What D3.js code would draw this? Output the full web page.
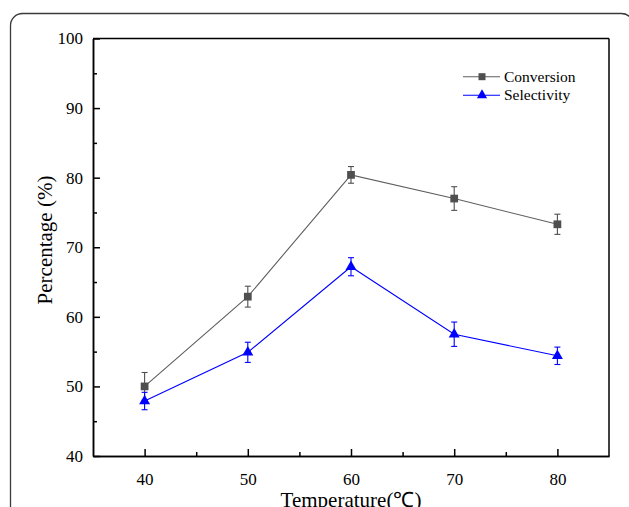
<!DOCTYPE html>
<html><head><meta charset="utf-8">
<script src="https://cdn.jsdelivr.net/npm/d3@7"></script>
<style>
html,body{margin:0;padding:0;background:#fff;}
svg{display:block;}
text{font-family:"Liberation Serif","Times New Roman",serif;fill:#000;}
</style></head>
<body><svg id="c" width="629" height="507"></svg>
<script>
const temperatures = [40, 50, 60, 70, 80];
const conversion = [50.0, 62.9, 80.4, 77.0, 73.3];
const conversionErr = [2.0, 1.5, 1.2, 1.7, 1.45];
const selectivity = [47.9, 54.9, 67.2, 57.5, 54.4];
const selectivityErr = [1.25, 1.45, 1.3, 1.75, 1.25];
const xTicks = [40, 50, 60, 70, 80];
const xMinor = [45, 55, 65, 75];
const yTicks = [40, 50, 60, 70, 80, 90, 100];
const yMinor = [45, 55, 65, 75, 85, 95];
const seriesNames = ["Conversion", "Selectivity"];

const svg = d3.select("#c");
// outer rounded frame
svg.append("rect").attr("x",10.5).attr("y",13.5).attr("width",623).attr("height",520)
  .attr("rx",12).attr("fill","none").attr("stroke","#3a3a3a").attr("stroke-width",1.3);

const L=93, R=609, T=38.5, B=456;
const x = d3.scaleLinear().domain([35,85]).range([L,R]);
const y = d3.scaleLinear().domain([40,100]).range([B,T]);

// frame of plot
svg.append("line").attr("x1",L).attr("x2",R).attr("y1",T).attr("y2",T).attr("stroke","#000").attr("stroke-width",1.5);
svg.append("line").attr("x1",R).attr("x2",R).attr("y1",T).attr("y2",B).attr("stroke","#000").attr("stroke-width",1.5);

// axes
const xAxis = svg.append("g").attr("transform",`translate(0,${B})`)
  .call(d3.axisBottom(x).tickValues(xTicks).tickSizeInner(-7).tickSizeOuter(0).tickPadding(17));
const xMin = svg.append("g").attr("transform",`translate(0,${B})`)
  .call(d3.axisBottom(x).tickValues(xMinor).tickSizeInner(-4).tickSizeOuter(0).tickFormat(""));
const yAxis = svg.append("g").attr("transform",`translate(${L},0)`)
  .call(d3.axisLeft(y).tickValues(yTicks).tickSizeInner(-7).tickSizeOuter(0).tickPadding(10));
const yMin = svg.append("g").attr("transform",`translate(${L},0)`)
  .call(d3.axisLeft(y).tickValues(yMinor).tickSizeInner(-4).tickSizeOuter(0).tickFormat(""));
[xAxis,xMin,yAxis,yMin].forEach(g=>{
  g.select(".domain").attr("stroke","#000").attr("stroke-width",1.5);
  g.selectAll(".tick line").attr("stroke","#000").attr("stroke-width",1.5);
  g.selectAll(".tick text").style("font-family","'Liberation Serif','Times New Roman',serif").style("font-size","17px").attr("fill","#000");
});

// axis titles
svg.append("text").attr("x",(L+R)/2).attr("y",507).attr("text-anchor","middle")
  .style("font-size","21px").text("Temperature(℃)");
svg.append("text").attr("transform","translate(52,240) rotate(-90)").attr("text-anchor","middle")
  .style("font-size","21px").text("Percentage (%)");

const series = [
  {name:seriesNames[0], vals:conversion, err:conversionErr, line:"#5e5e5e", mark:"#4f4f4f", shape:"square"},
  {name:seriesNames[1], vals:selectivity, err:selectivityErr, line:"#0000ff", mark:"#0000ff", shape:"triangle"}
];
const sym = {square:d3.symbol().type(d3.symbolSquare).size(60), triangle:d3.symbol().type(d3.symbolTriangle).size(52)};
const lineGen = d3.line().x(d=>x(d[0])).y(d=>y(d[1]));

series.forEach(s=>{
  const pts = temperatures.map((t,i)=>[t,s.vals[i],s.err[i]]);
  svg.append("path").datum(pts).attr("d",lineGen).attr("fill","none").attr("stroke",s.line).attr("stroke-width",1.1);
  const eb = svg.append("g");
  pts.forEach(p=>{
    const cx=x(p[0]), y1=y(p[1]+p[2]), y2=y(p[1]-p[2]);
    eb.append("line").attr("x1",cx).attr("x2",cx).attr("y1",y1).attr("y2",y2).attr("stroke",s.mark).attr("stroke-width",1.1);
    eb.append("line").attr("x1",cx-3).attr("x2",cx+3).attr("y1",y1).attr("y2",y1).attr("stroke",s.mark).attr("stroke-width",1.1);
    eb.append("line").attr("x1",cx-3).attr("x2",cx+3).attr("y1",y2).attr("y2",y2).attr("stroke",s.mark).attr("stroke-width",1.1);
  });
  svg.append("g").selectAll("path").data(pts).join("path")
    .attr("d",sym[s.shape]).attr("transform",d=>`translate(${x(d[0])},${y(d[1])})`).attr("fill",s.mark);
});

// legend
const leg = svg.append("g");
series.forEach((s,i)=>{
  const ly = 76.7 + i*18.5;
  leg.append("line").attr("x1",463).attr("x2",500).attr("y1",ly).attr("y2",ly).attr("stroke",s.line).attr("stroke-width",1.1);
  leg.append("path").attr("d",s.shape==="square"?d3.symbol().type(d3.symbolSquare).size(49)():d3.symbol().type(d3.symbolTriangle).size(45)())
    .attr("transform",`translate(482,${ly})`).attr("fill",s.mark);
  leg.append("text").attr("x",504).attr("y",ly+5).style("font-size","15.5px").text(s.name);
});
</script></body></html>
